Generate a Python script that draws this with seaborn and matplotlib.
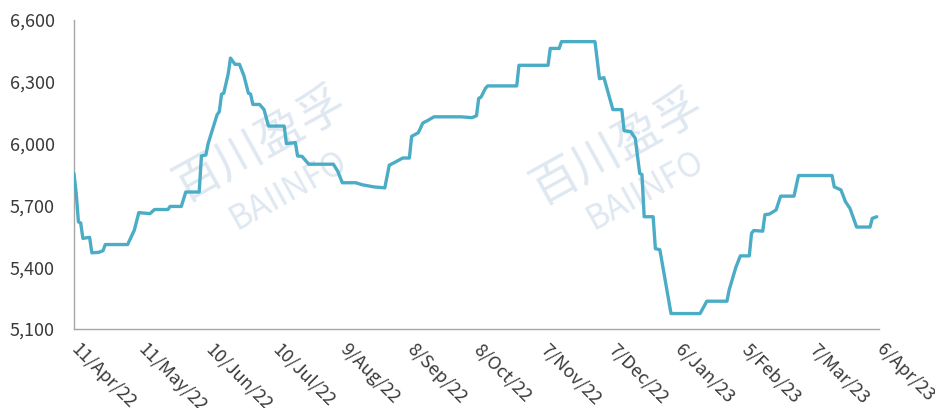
import matplotlib
matplotlib.use("Agg")
import matplotlib.pyplot as plt
import matplotlib.ticker as mticker
import pandas as pd
import seaborn as sns

# Daily price series (turning points of the curve)
dates = [
    "2022-04-11", "2022-04-12", "2022-04-13", "2022-04-14", "2022-04-15", "2022-04-18",
    "2022-04-19", "2022-04-22", "2022-04-24", "2022-04-25", "2022-05-05", "2022-05-08",
    "2022-05-10", "2022-05-15", "2022-05-17", "2022-05-23", "2022-05-24", "2022-05-29",
    "2022-05-31", "2022-06-06", "2022-06-07", "2022-06-09", "2022-06-10", "2022-06-14",
    "2022-06-15", "2022-06-16", "2022-06-17", "2022-06-19", "2022-06-20", "2022-06-22",
    "2022-06-24", "2022-06-26", "2022-06-28", "2022-06-29", "2022-06-30", "2022-07-03",
    "2022-07-05", "2022-07-07", "2022-07-14", "2022-07-15", "2022-07-19", "2022-07-20",
    "2022-07-22", "2022-07-25", "2022-08-05", "2022-08-07", "2022-08-09", "2022-08-15",
    "2022-08-18", "2022-08-23", "2022-08-28", "2022-08-30", "2022-09-02", "2022-09-05",
    "2022-09-08", "2022-09-09", "2022-09-12", "2022-09-14", "2022-09-16", "2022-09-19",
    "2022-10-01", "2022-10-06", "2022-10-08", "2022-10-09", "2022-10-10", "2022-10-12",
    "2022-10-13", "2022-10-26", "2022-10-27", "2022-11-09", "2022-11-10", "2022-11-14",
    "2022-11-15", "2022-11-30", "2022-12-02", "2022-12-04", "2022-12-08", "2022-12-12",
    "2022-12-13", "2022-12-16", "2022-12-18", "2022-12-20", "2022-12-21", "2022-12-22",
    "2022-12-26", "2022-12-27", "2022-12-29", "2023-01-03", "2023-01-16", "2023-01-19",
    "2023-01-28", "2023-01-29", "2023-02-01", "2023-02-03", "2023-02-07", "2023-02-08",
    "2023-02-09", "2023-02-13", "2023-02-14", "2023-02-16", "2023-02-19", "2023-02-21",
    "2023-02-27", "2023-03-01", "2023-03-16", "2023-03-17", "2023-03-20", "2023-03-22",
    "2023-03-24", "2023-03-27", "2023-04-02", "2023-04-03", "2023-04-05",
]
prices = [
    5855, 5760, 5620, 5615, 5540, 5545,
    5470, 5472, 5480, 5510, 5510, 5580,
    5665, 5660, 5680, 5680, 5695, 5695,
    5765, 5765, 5940, 5945, 6000, 6140,
    6155, 6240, 6245, 6340, 6415, 6385,
    6385, 6330, 6245, 6240, 6190, 6190,
    6165, 6085, 6085, 6000, 6005, 5940,
    5938, 5900, 5900, 5865, 5810, 5810,
    5800, 5790, 5785, 5895, 5912, 5930,
    5930, 6035, 6053, 6100, 6111, 6130,
    6130, 6126, 6135, 6220, 6225, 6268,
    6280, 6280, 6380, 6380, 6462, 6462,
    6495, 6495, 6315, 6320, 6165, 6165,
    6063, 6058, 6026, 5855, 5850, 5645,
    5645, 5490, 5485, 5175, 5175, 5235,
    5235, 5290, 5400, 5455, 5455, 5565,
    5578, 5575, 5655, 5658, 5678, 5745,
    5745, 5845, 5845, 5790, 5775, 5718,
    5686, 5595, 5595, 5637, 5645,
]

tick_dates = [
    "2022-04-11", "2022-05-11", "2022-06-10", "2022-07-10", "2022-08-09", "2022-09-08",
    "2022-10-08", "2022-11-07", "2022-12-07", "2023-01-06", "2023-02-05", "2023-03-07",
    "2023-04-06",
]
tick_labels = [
    "11/Apr/22", "11/May/22", "10/Jun/22", "10/Jul/22", "9/Aug/22", "8/Sep/22",
    "8/Oct/22", "7/Nov/22", "7/Dec/22", "6/Jan/23", "5/Feb/23", "7/Mar/23",
    "6/Apr/23",
]
y_ticks = [5100, 5400, 5700, 6000, 6300, 6600]

sns.set_style("white")
plt.rcParams["font.family"] = ["Noto Sans CJK SC", "DejaVu Sans"]

axis_grey = "#A6A6A6"
label_color = "#3A3A3A"

fig = plt.figure(figsize=(9.35, 4.08), dpi=100)
ax = fig.add_axes([0.0791, 0.1936, 0.8610, 0.7574])

df = pd.DataFrame({"date": pd.to_datetime(dates), "price": prices})
sns.lineplot(data=df, x="date", y="price", ax=ax, color="#4BACC6",
             linewidth=2.4, solid_joinstyle="round", solid_capstyle="round",
             zorder=3)

ax.set_xlim(pd.Timestamp(tick_dates[0]), pd.Timestamp(tick_dates[-1]))
ax.set_ylim(y_ticks[0], y_ticks[-1])
ax.set_yticks(y_ticks)
ax.yaxis.set_major_formatter(mticker.FuncFormatter(lambda v, p: f"{int(v):,}"))
ax.set_xticks(pd.to_datetime(tick_dates))
ax.set_xticklabels(tick_labels, rotation=-45, ha="left", va="center",
                   rotation_mode="anchor")
ax.set_xlabel("")
ax.set_ylabel("")

for side in ("top", "right"):
    ax.spines[side].set_visible(False)
for side in ("left", "bottom"):
    ax.spines[side].set_color(axis_grey)
    ax.spines[side].set_linewidth(1.0)

ax.tick_params(axis="y", direction="in", length=5, width=1, color=axis_grey,
               labelsize=13, labelcolor=label_color, pad=14)
ax.tick_params(axis="x", direction="in", length=5, width=1, color=axis_grey,
               labelsize=13, labelcolor=label_color, pad=13)
ax.grid(False)

# Faint brand watermark behind the curve
wm_color = "#DFE8F1"
for cx, cy, bx, by in [(261, 145, 288, 190), (618, 148, 645, 190)]:
    ax.text(cx / 935, 1 - cy / 408, "百川盈孚", transform=fig.transFigure,
            rotation=29, ha="center", va="center", fontsize=34,
            color=wm_color, zorder=1)
    ax.text(bx / 935, 1 - by / 408, "BAIINFO", transform=fig.transFigure,
            rotation=29, ha="center", va="center", fontsize=24,
            color=wm_color, zorder=1)

fig.savefig("out.png", dpi=100)
